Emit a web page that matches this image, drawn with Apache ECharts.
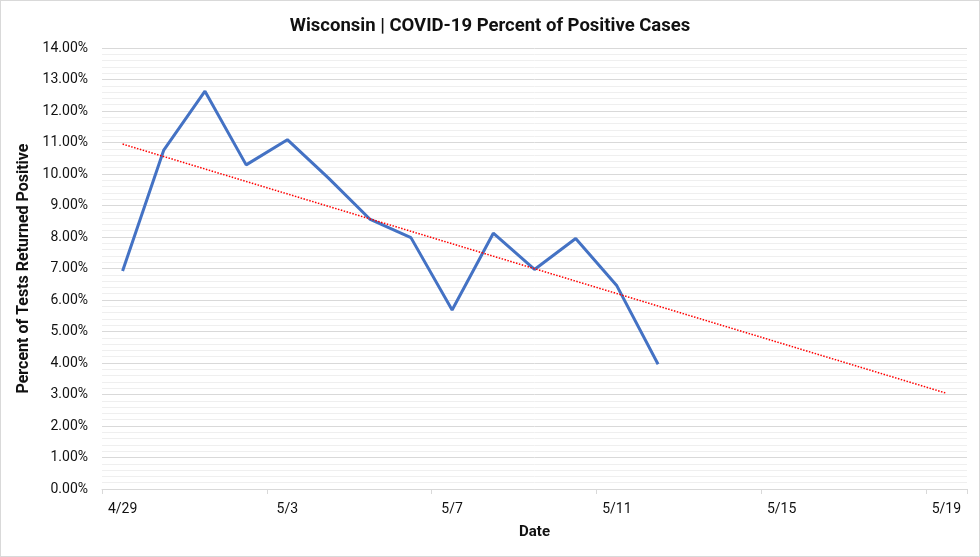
<!DOCTYPE html>
<html>
<head>
<meta charset="utf-8">
<script src="https://cdn.jsdelivr.net/npm/echarts@6/dist/echarts.min.js"></script>
<style>
html,body{margin:0;padding:0;background:#fff;}
#c{width:978px;height:555px;border:1px solid #d9d9d9;}
</style>
</head>
<body>
<div id="c"></div>
<script>
var categories = ['4/29','4/30','5/1','5/2','5/3','5/4','5/5','5/6','5/7','5/8','5/9','5/10','5/11','5/12','5/13','5/14','5/15','5/16','5/17','5/18','5/19'];
var positivePct = [6.92,10.76,12.63,10.29,11.09,9.87,8.57,7.98,5.68,8.12,6.97,7.95,6.45,3.96];
var trendStart = ['4/29', 10.95];
var trendEnd = ['5/19', 3.04];
var yTicks = {min:0, max:14, interval:1};

var chart = echarts.init(document.getElementById('c'));
chart.setOption({
  animation:false,
  title:{text:'Wisconsin | COVID-19 Percent of Positive Cases',left:'center',top:11,
    textStyle:{fontFamily:'Roboto',fontWeight:'bold',fontSize:18.5,color:'#111'}},
  grid:{left:101,right:12,top:47,bottom:67,containLabel:false},
  xAxis:{type:'category',data:categories,boundaryGap:true,
    name:'Date',nameLocation:'middle',nameGap:36,
    nameTextStyle:{fontFamily:'Roboto',fontWeight:'bold',fontSize:15,color:'#111'},
    axisLine:{lineStyle:{color:'#d9d9d9',width:1}},
    axisTick:{show:true,interval:3,length:5,lineStyle:{color:'#d9d9d9'}},
    axisLabel:{interval:3,margin:13,fontFamily:'Roboto',fontSize:14,color:'#111'},
    splitLine:{show:false}},
  yAxis:{type:'value',min:yTicks.min,max:yTicks.max,interval:yTicks.interval,
    name:'Percent of Tests Returned Positive',nameLocation:'middle',nameGap:61,nameRotate:90,
    nameTextStyle:{fontFamily:'Roboto',fontWeight:'bold',fontSize:16,color:'#111'},
    axisLine:{show:false},axisTick:{show:false},
    axisLabel:{margin:14,fontFamily:'Roboto',fontSize:14,color:'#111',formatter:function(v){return v.toFixed(2)+'%';}},
    splitLine:{show:true,lineStyle:{color:'#d9d9d9',width:1}},
    minorTick:{show:false,splitNumber:5},
    minorSplitLine:{show:true,lineStyle:{color:'#efefef',width:1}}},
  series:[
    {type:'line',data:positivePct,symbol:'none',lineStyle:{color:'#4472C4',width:3},z:3},
    {type:'line',data:[trendStart,trendEnd],symbol:'none',lineStyle:{color:'#ff0000',width:1.5,type:'dotted'},z:4}
  ]
});
</script>
</body>
</html>
